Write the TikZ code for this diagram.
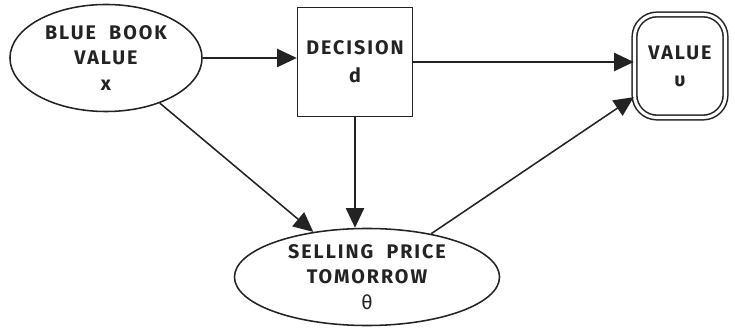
\documentclass[tikz,border=0pt]{standalone}
\usepackage{fontspec}
\setmainfont{Fira Sans}[LetterSpace=10, WordSpace=2]
\usetikzlibrary{shapes.geometric, arrows.meta}
\definecolor{ink}{RGB}{35, 35, 35}

\begin{document}
\begin{tikzpicture}[x=0.025cm, y=-0.025cm, line width=1.1pt, draw=ink,
    chance/.style={ellipse, draw=ink, inner sep=0pt, align=center,
      font=\bfseries\fontsize{14}{16}\selectfont, text=ink},
    choice/.style={rectangle, draw=ink, inner sep=0pt, align=center,
      font=\bfseries\fontsize{14}{16}\selectfont, text=ink},
    payoff/.style={rectangle, draw=ink, double, double distance=2.2pt, rounded corners=16pt,
      inner sep=0pt, align=center, font=\bfseries\fontsize{14}{16}\selectfont, text=ink},
    link/.style={-{Triangle[length=14pt, width=13pt]}, ink}]

  \useasboundingbox (0, 0) rectangle (735, 333);

  \node[chance, minimum width=4.8cm, minimum height=2.675cm] (blue) at (106, 58)
    {BLUE BOOK\\[2pt] VALUE\\[2pt] x};
  \node[choice, minimum width=2.875cm, minimum height=2.725cm] (dec) at (355, 62)
    {DECISION\\[4pt] d};
  \node[payoff, minimum width=2.275cm, minimum height=2.575cm] (val) at (680, 66)
    {VALUE\\[3pt] υ};
  \node[chance, minimum width=6.625cm, minimum height=2.425cm] (sell) at (367, 277)
    {SELLING PRICE\\[2pt] TOMORROW\\[2pt] \mdseries θ};

  \draw[link] (blue.east) -- (blue.east -| dec.west);
  \draw[link] (dec.east) -- (dec.east -| val.west);
  \draw[link] (dec.south) -- (sell.north -| dec.south);
  \draw[link] (blue) -- (sell);
  \draw[link] (sell) -- (val);

\end{tikzpicture}
\end{document}
